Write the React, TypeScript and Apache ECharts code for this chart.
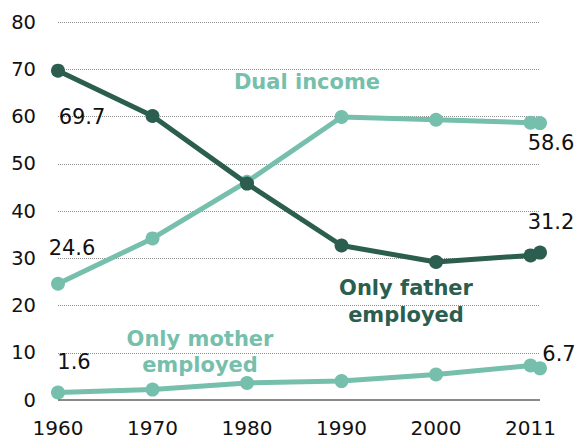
import React, { useEffect, useRef } from "react";
import * as echarts from "echarts";

const years = [1960, 1970, 1980, 1990, 2000, 2010, 2011];
const onlyFather = [69.7, 60.1, 45.8, 32.7, 29.2, 30.6, 31.2];
const dualIncome = [24.6, 34.2, 46.2, 59.9, 59.3, 58.7, 58.6];
const onlyMother = [1.6, 2.2, 3.6, 4.0, 5.4, 7.3, 6.7];
const yTicks = [0, 10, 20, 30, 40, 50, 60, 70, 80];
const xTickLabels: Record<number, string> = { 1960: "1960", 1970: "1970", 1980: "1980", 1990: "1990", 2000: "2000", 2010: "2011" };

const TEAL = "#76bfac";
const DARK = "#2b5e4e";
const FONT = "DejaVu Sans";

type LabelSpec = { idx: number; offset: [number, number] };

function buildData(values: number[], labels: LabelSpec[]) {
  return values.map((v, i) => {
    const spec = labels.find((l) => l.idx === i);
    const item: any = { value: [years[i], v] };
    if (spec) {
      item.label = {
        show: true,
        position: "inside",
        offset: spec.offset,
        formatter: String(v),
        color: "#111",
        fontFamily: FONT,
        fontSize: 21,
        align: "center",
        verticalAlign: "middle",
      };
    }
    return item;
  });
}

function annotation(text: string, color: string, x: number, y: number, lineHeight: number) {
  return {
    type: "text",
    x,
    y,
    style: {
      text,
      fill: color,
      fontFamily: FONT,
      fontWeight: "bold",
      fontSize: 21,
      lineHeight,
      align: "center",
      verticalAlign: "middle",
    },
  };
}

export default function App() {
  const ref = useRef<HTMLDivElement>(null);
  useEffect(() => {
    if (!ref.current) return;
    const chart = echarts.init(ref.current, undefined, { renderer: "svg" });
    const lineSeries = (name: string, color: string, values: number[], labels: LabelSpec[], z: number) => ({
      name,
      type: "line",
      z,
      data: buildData(values, labels),
      symbol: "circle",
      symbolSize: 14,
      lineStyle: { color, width: 5 },
      itemStyle: { color },
      label: { show: false },
      emphasis: { disabled: true },
    });
    chart.setOption({
      animation: false,
      grid: { left: 58, right: 37, top: 22, bottom: 39, containLabel: false },
      xAxis: {
        type: "value",
        min: 1960,
        max: 2011,
        interval: 10,
        axisLine: { show: false },
        axisTick: { show: false },
        splitLine: { show: false },
        axisLabel: {
          margin: 18,
          fontFamily: FONT,
          fontSize: 20,
          color: "#111",
          showMaxLabel: false,
          formatter: (v: number) => xTickLabels[v] ?? "",
        },
      },
      yAxis: {
        type: "value",
        min: yTicks[0],
        max: yTicks[yTicks.length - 1],
        interval: 10,
        axisLine: { show: false },
        axisTick: { show: false },
        splitLine: { show: true, lineStyle: { type: [1, 1], color: "#8f8f8f", width: 1 } },
        axisLabel: { margin: 22, fontFamily: FONT, fontSize: 19.5, color: "#111" },
      },
      series: [
        {
          type: "line",
          data: [],
          markLine: {
            silent: true,
            symbol: "none",
            label: { show: false },
            lineStyle: { type: "solid", color: "#8a8a8a", width: 2 },
            data: [{ yAxis: 0 }],
          },
        },
        lineSeries("Only mother employed", TEAL, onlyMother, [
          { idx: 0, offset: [16, -30] },
          { idx: 6, offset: [19, -14] },
        ], 3),
        lineSeries("Dual income", TEAL, dualIncome, [
          { idx: 0, offset: [14, -36] },
          { idx: 6, offset: [11, 20] },
        ], 3),
        lineSeries("Only father employed", DARK, onlyFather, [
          { idx: 0, offset: [24, 46] },
          { idx: 6, offset: [11, -31] },
        ], 4),
      ],
      graphic: [
        annotation("Dual income", TEAL, 307, 82, 27),
        annotation("Only father\nemployed", DARK, 406, 301.5, 27),
        annotation("Only mother\nemployed", TEAL, 200, 352, 26),
      ],
    });
    return () => chart.dispose();
  }, []);
  return (
    <div
      ref={ref}
      style={{ position: "fixed", left: 0, top: 0, width: 577, height: 439, background: "#fff" }}
    />
  );
}
